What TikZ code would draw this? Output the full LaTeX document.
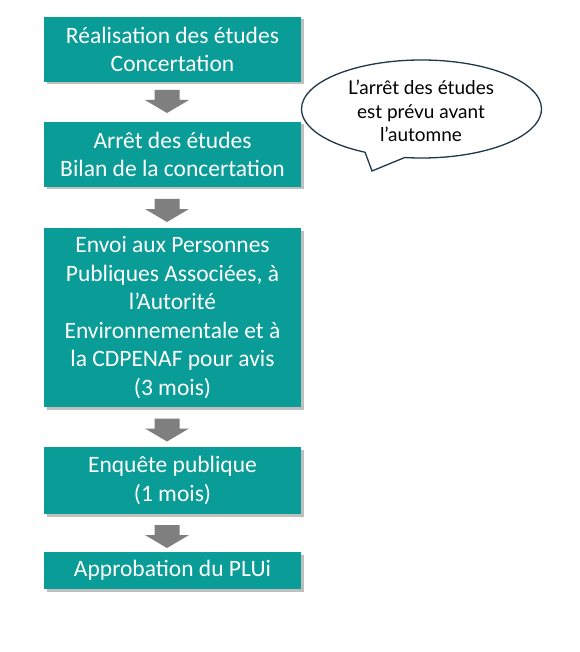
\documentclass[tikz,border=0pt]{standalone}
\usepackage{fontspec}
\setmainfont{Carlito}
\newfontfamily\callfont{Lato}
\usetikzlibrary{shapes.callouts,shadows}
\definecolor{tealbox}{RGB}{10,156,151}
\definecolor{arrowgray}{RGB}{127,127,127}
\definecolor{calloutline}{RGB}{31,56,72}
\begin{document}
\begin{tikzpicture}[x=1pt,y=-1pt,
 stepbox/.style={fill=tealbox, text=white, minimum width=257pt, align=center,
   font=\fontsize{23.5}{28.5}\selectfont, inner sep=0pt,
   drop shadow={shadow xshift=2.5pt, shadow yshift=-2.5pt, fill=black, opacity=0.25}},
 blockarrow/.pic={\fill[arrowgray] (-12.5,-11.5) -- (12.5,-11.5) -- (12.5,-1.5) -- (22,-1.5)
   -- (0,11.5) -- (-22,-1.5) -- (-12.5,-1.5) -- cycle;}]
\fill[white] (0,0) rectangle (579,652);
\useasboundingbox (0,0) rectangle (579,652);
\node[stepbox, minimum height=65pt] (b1) at (172.5,49.5) {Réalisation des études\\Concertation};
\node[stepbox, minimum height=65pt] (b2) at (172.5,154.5) {Arrêt des études\\Bilan de la concertation};
\node[stepbox, minimum height=179pt] (b3) at (172.5,317.5) {Envoi aux Personnes\\Publiques Associées, à\\l’Autorité\\Environnementale et à\\la CDPENAF pour avis\\(3 mois)};
\node[stepbox, minimum height=67pt] (b4) at (172.5,480.5) {Enquête publique\\(1 mois)};
\node[stepbox, minimum height=37pt] (b5) at (172.5,570.5) {Approbation du PLUi};
\coordinate (a1) at (167,101.5);
\coordinate (a2) at (167,210.5);
\coordinate (a3) at (167,430);
\coordinate (a4) at (167,536.5);
\pic at (a1) {blockarrow};
\pic at (a2) {blockarrow};
\pic at (a3) {blockarrow};
\pic at (a4) {blockarrow};
\coordinate (tip) at (372,171);
\node[ellipse callout, draw=calloutline, line width=1.3pt, fill=white,
  minimum width=240pt, minimum height=98pt, callout absolute pointer={(tip)},
  callout pointer arc=20] (bubble) at (421.5,109) {};
\node[align=center, font=\callfont\fontsize{19}{23.5}\selectfont, text=black] (btext) at (421,111) {L’arrêt des études\\est prévu avant\\l’automne};
\end{tikzpicture}
\end{document}
